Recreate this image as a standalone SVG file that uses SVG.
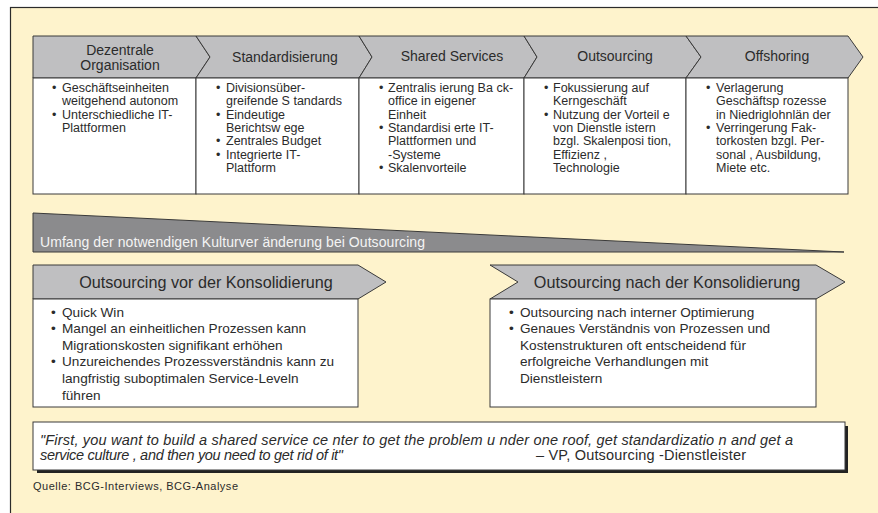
<svg xmlns="http://www.w3.org/2000/svg" width="878" height="513" viewBox="0 0 878 513">
<style>
.t{font-family:"Liberation Sans",Arial,sans-serif;fill:#2b2b2b}
.h{font-size:14px;text-anchor:middle}
.ht{font-size:16.2px;text-anchor:middle}
.b{font-size:12.5px}
.l{font-size:13.6px}
.hd{fill:#bfbfc1;stroke:#3a3a3a;stroke-width:1}
.bx{fill:#ffffff;stroke:#3a3a3a;stroke-width:1}
.q{font-size:14.5px;font-style:italic}
</style>
<rect x="0" y="0" width="878" height="513" fill="#ffffff"/>
<rect id="frame" x="10.5" y="7.5" width="880" height="520" fill="#fef3cc" stroke="#2b2b2b" stroke-width="1.2"/>

<g id="stages">
  <g id="stage1">
    <polygon class="hd" points="33,36 196,36 210,57 196,78 33,78"/>
    <rect class="bx" x="33" y="78" width="163" height="116"/>
    <text class="t h" x="120" y="55">Dezentrale</text>
    <text class="t h" x="120" y="70">Organisation</text>
    <text class="t b" x="52" y="92">•</text><text class="t b" x="62" y="92">Geschäftseinheiten</text>
    <text class="t b" x="62" y="105.3">weitgehend autonom</text>
    <text class="t b" x="52" y="118.6">•</text><text class="t b" x="62" y="118.6">Unterschiedliche IT-</text>
    <text class="t b" x="62" y="132">Plattformen</text>
  </g>
  <g id="stage2">
    <polygon class="hd" points="196,36 359,36 372,57 359,78 196,78 210,57"/>
    <rect class="bx" x="196" y="78" width="163" height="116"/>
    <text class="t h" x="285" y="62">Standardisierung</text>
    <text class="t b" x="216" y="92">•</text><text class="t b" x="226" y="92">Divisionsüber-</text>
    <text class="t b" x="226" y="105.3">greifende S tandards</text>
    <text class="t b" x="216" y="118.6">•</text><text class="t b" x="226" y="118.6">Eindeutige</text>
    <text class="t b" x="226" y="132">Berichtsw ege</text>
    <text class="t b" x="216" y="145.3">•</text><text class="t b" x="226" y="145.3">Zentrales Budget</text>
    <text class="t b" x="216" y="158.6">•</text><text class="t b" x="226" y="158.6">Integrierte IT-</text>
    <text class="t b" x="226" y="172">Plattform</text>
  </g>
  <g id="stage3">
    <polygon class="hd" points="359,36 524,36 537,57 524,78 359,78 372,57"/>
    <rect class="bx" x="359" y="78" width="165" height="116"/>
    <text class="t h" x="452" y="61">Shared Services</text>
    <text class="t b" x="379" y="92">•</text><text class="t b" x="388" y="92">Zentralis ierung Ba ck-</text>
    <text class="t b" x="388" y="105.3">office in eigener</text>
    <text class="t b" x="388" y="118.6">Einheit</text>
    <text class="t b" x="379" y="132">•</text><text class="t b" x="388" y="132">Standardisi erte IT-</text>
    <text class="t b" x="388" y="145.3">Plattformen und</text>
    <text class="t b" x="388" y="158.6">-Systeme</text>
    <text class="t b" x="379" y="172">•</text><text class="t b" x="388" y="172">Skalenvorteile</text>
  </g>
  <g id="stage4">
    <polygon class="hd" points="524,36 686,36 701,57 686,78 524,78 537,57"/>
    <rect class="bx" x="524" y="78" width="162" height="116"/>
    <text class="t h" x="615" y="61">Outsourcing</text>
    <text class="t b" x="544" y="92">•</text><text class="t b" x="553" y="92">Fokussierung auf</text>
    <text class="t b" x="553" y="105.3">Kerngeschäft</text>
    <text class="t b" x="544" y="118.6">•</text><text class="t b" x="553" y="118.6">Nutzung der Vorteil e</text>
    <text class="t b" x="553" y="132">von Dienstle istern</text>
    <text class="t b" x="553" y="145.3">bzgl. Skalenposi tion,</text>
    <text class="t b" x="553" y="158.6">Effizienz ,</text>
    <text class="t b" x="553" y="172">Technologie</text>
  </g>
  <g id="stage5">
    <polygon class="hd" points="686,36 848,36 863,57 848,78 686,78 701,57"/>
    <rect class="bx" x="686" y="78" width="162" height="116"/>
    <text class="t h" x="777" y="61">Offshoring</text>
    <text class="t b" x="706" y="92">•</text><text class="t b" x="716" y="92">Verlagerung</text>
    <text class="t b" x="716" y="105.3">Geschäftsp rozesse</text>
    <text class="t b" x="716" y="118.6">in Niedriglohnlän der</text>
    <text class="t b" x="706" y="132">•</text><text class="t b" x="716" y="132">Verringerung Fak-</text>
    <text class="t b" x="716" y="145.3">torkosten bzgl. Per-</text>
    <text class="t b" x="716" y="158.6">sonal , Ausbildung,</text>
    <text class="t b" x="716" y="172">Miete etc.</text>
  </g>
</g>

<g id="wedge">
  <polygon points="33,213 844,252 33,252" fill="#8b8b8d" stroke="#3a3a3a" stroke-width="1"/>
  <text class="t" x="40" y="247" font-size="14" textLength="385" style="fill:#f4f4f4">Umfang der notwendigen Kulturver änderung bei Outsourcing</text>
</g>

<g id="vorKonsolidierung">
  <polygon class="hd" points="33,265 358,265 386,282 358,299 33,299"/>
  <rect class="bx" x="33" y="299" width="325" height="108"/>
  <text class="t ht" x="206" y="288">Outsourcing vor der Konsolidierung</text>
  <text class="t l" x="51" y="316.5">•</text><text class="t l" x="62" y="316.5">Quick Win</text>
  <text class="t l" x="51" y="333">•</text><text class="t l" x="62" y="333">Mangel an einheitlichen Prozessen kann</text>
  <text class="t l" x="62" y="349.7">Migrationskosten signifikant erhöhen</text>
  <text class="t l" x="51" y="366.3">•</text><text class="t l" x="62" y="366.3">Unzureichendes Prozessverständnis kann zu</text>
  <text class="t l" x="62" y="383">langfristig suboptimalen Service-Leveln</text>
  <text class="t l" x="62" y="399.6">führen</text>
</g>

<g id="nachKonsolidierung">
  <polygon class="hd" points="490,265 816,265 845,282 816,299 490,299 518,282"/>
  <rect class="bx" x="490" y="299" width="326" height="108"/>
  <text class="t ht" x="667" y="288">Outsourcing nach der Konsolidierung</text>
  <text class="t l" x="509" y="316.5">•</text><text class="t l" x="520" y="316.5">Outsourcing nach interner Optimierung</text>
  <text class="t l" x="509" y="333">•</text><text class="t l" x="520" y="333">Genaues Verständnis von Prozessen und</text>
  <text class="t l" x="520" y="349.7">Kostenstrukturen oft entscheidend für</text>
  <text class="t l" x="520" y="366.3">erfolgreiche Verhandlungen mit</text>
  <text class="t l" x="520" y="383">Dienstleistern</text>
</g>

<g id="quote">
  <rect x="37" y="426" width="811" height="47" fill="#222222"/>
  <rect x="33" y="422" width="812" height="48" fill="#ffffff" stroke="#3a3a3a" stroke-width="1"/>
  <text class="t q" x="40" y="445" textLength="753">"First, you want to build a shared service ce nter to get the problem u nder one roof, get standardizatio n and get a</text>
  <text class="t q" x="40" y="460" textLength="303">service culture , and then you need to get rid of it"</text>
  <text class="t" x="536" y="460" font-size="14.5" textLength="210">– VP, Outsourcing -Dienstleister</text>
</g>

<g id="source">
  <text class="t" x="33" y="490" font-size="11" textLength="205">Quelle: BCG-Interviews, BCG-Analyse</text>
</g>

<g id="connectors"></g>
</svg>
